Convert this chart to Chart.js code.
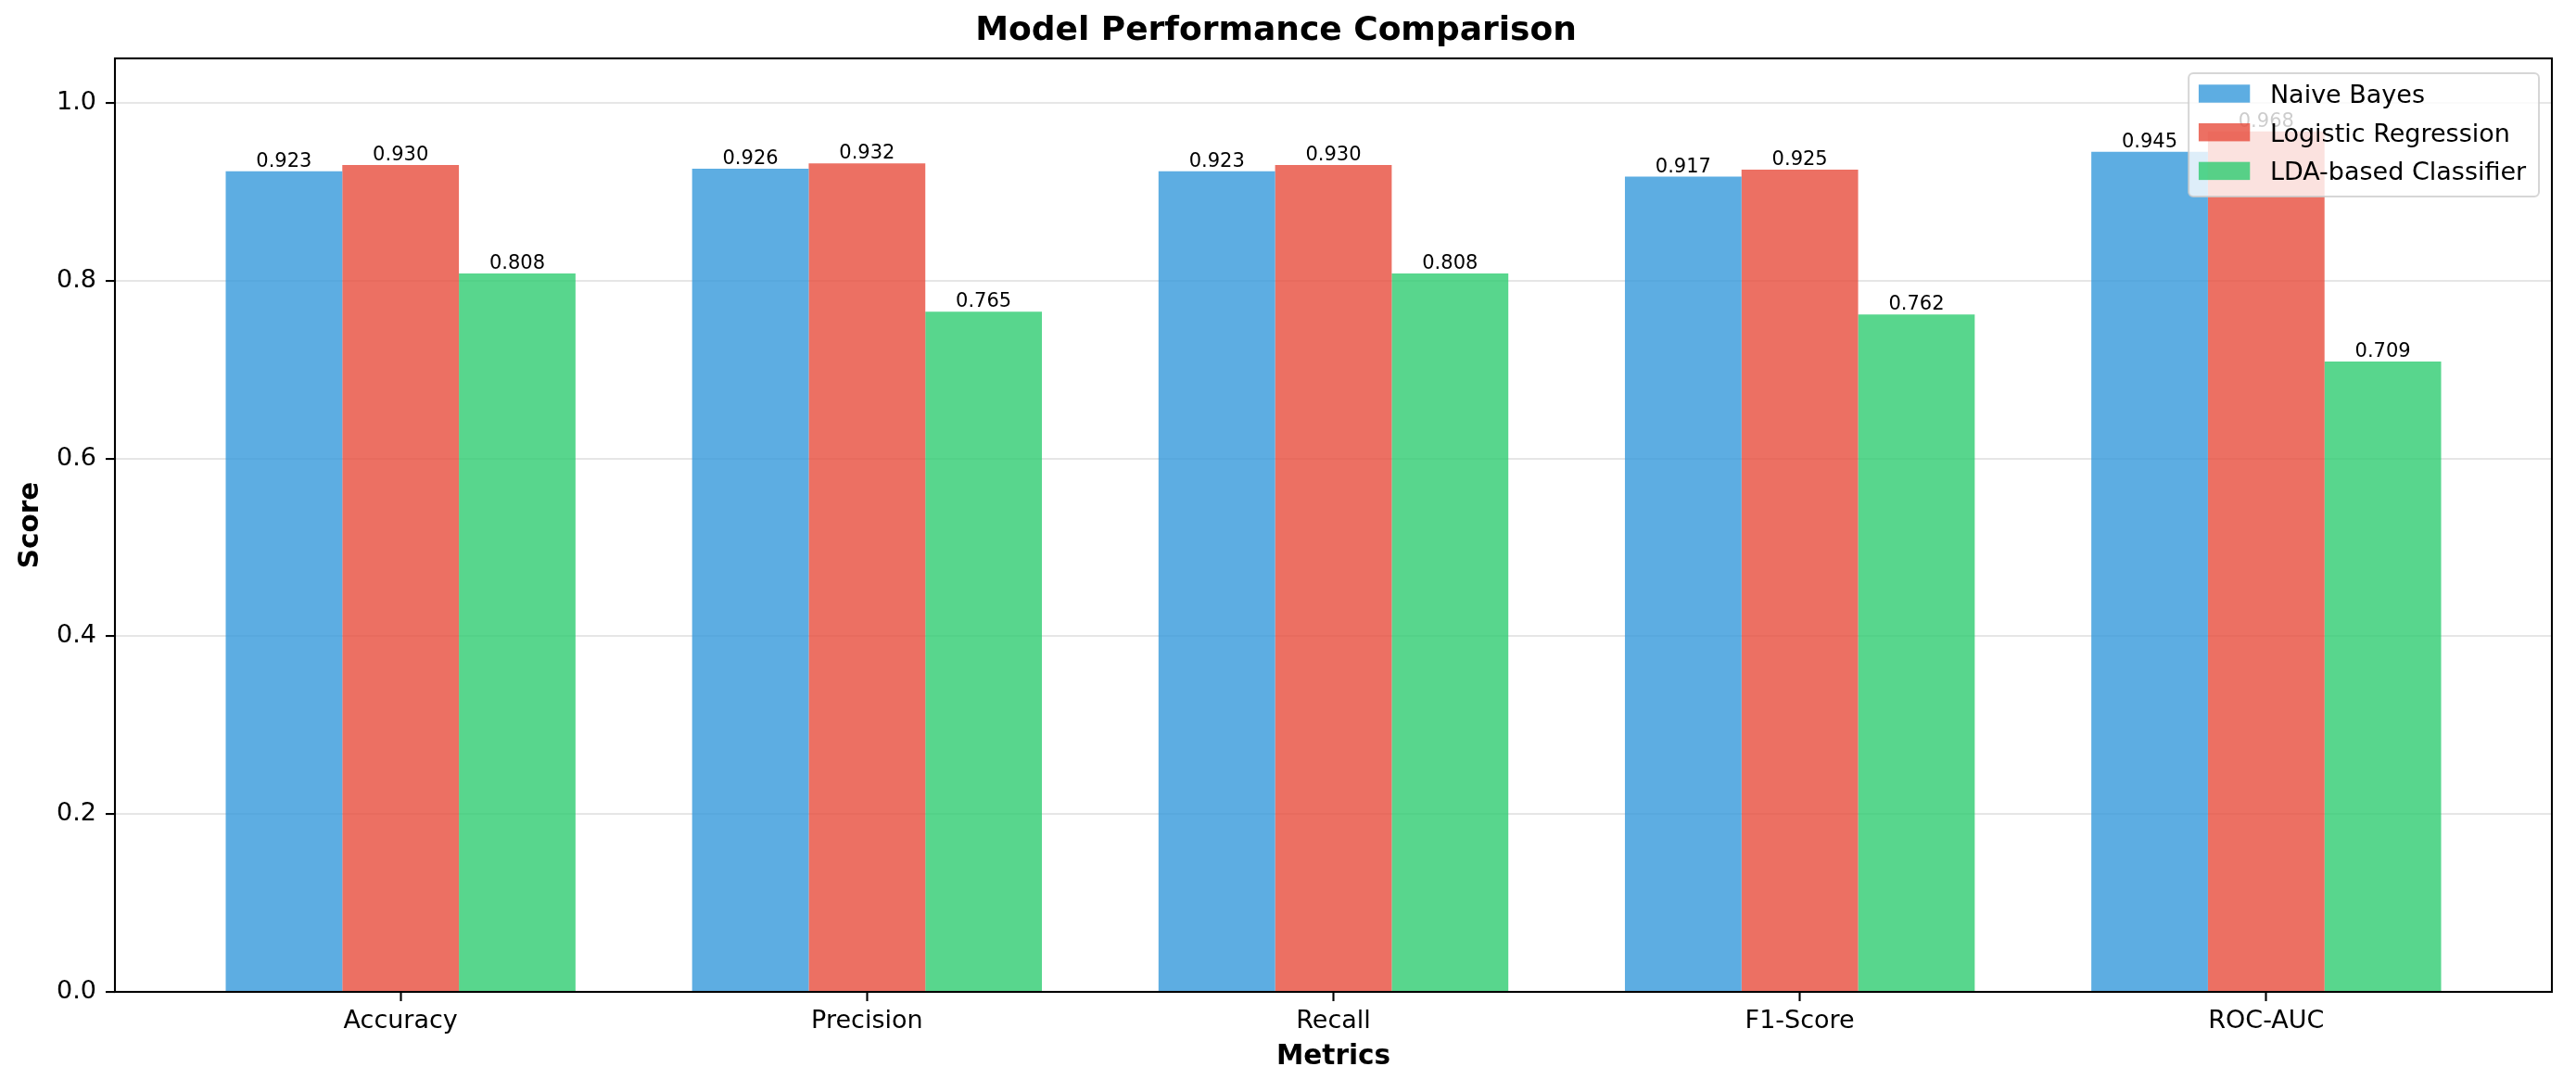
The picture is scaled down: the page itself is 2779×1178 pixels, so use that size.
<!DOCTYPE html>
<html>
<head>
<meta charset="utf-8">
<title>Model Performance Comparison</title>
<script src="https://cdn.jsdelivr.net/npm/chart.js@4.4.1/dist/chart.umd.min.js"></script>
<style>
    html, body { margin: 0; padding: 0; background: #fff; }
    #wrap { width: 2779px; height: 1178px; }
</style>
</head>
<body>
<div id="wrap"><canvas id="perfChart"></canvas></div>
<script>
// Data
const metrics = ['Accuracy', 'Precision', 'Recall', 'F1-Score', 'ROC-AUC'];
const models = ['Naive Bayes', 'Logistic Regression', 'LDA-based Classifier'];
const naiveBayes = [0.923, 0.926, 0.923, 0.917, 0.945];
const logReg = [0.930, 0.932, 0.930, 0.925, 0.968];
const ldaClf = [0.808, 0.765, 0.808, 0.762, 0.709];
const yTicks = [0.0, 0.2, 0.4, 0.6, 0.8, 1.0];

const FONT = "'DejaVu Sans', 'Liberation Sans', sans-serif";
const colors = [
    'rgba(52, 152, 219, 0.8)',
    'rgba(231, 76, 60, 0.8)',
    'rgba(46, 204, 113, 0.8)'
];
const seriesValues = [naiveBayes, logReg, ldaClf];

Chart.defaults.color = '#000';
Chart.defaults.font.family = FONT;

const datasets = models.map((name, k) => ({
    label: name,
    data: seriesValues[k].map((v, i) => ({ x: i, y: v })),
    backgroundColor: colors[k],
    borderWidth: 0,
    categoryPercentage: 0.75,
    barPercentage: 1.0
}));

// Value labels, box frame and legend drawn on top
const overlay = {
    id: 'overlay',
    afterDraw(chart) {
        const ctx = chart.ctx;
        const area = chart.chartArea;
        ctx.save();

        // frame
        ctx.strokeStyle = '#000';
        ctx.lineWidth = 2.1;
        ctx.strokeRect(area.left, area.top, area.right - area.left, area.bottom - area.top);

        // value labels
        ctx.font = '21px ' + FONT;
        ctx.fillStyle = '#000';
        ctx.textAlign = 'center';
        ctx.textBaseline = 'alphabetic';
        chart.data.datasets.forEach((ds, k) => {
            const meta = chart.getDatasetMeta(k);
            meta.data.forEach((bar, i) => {
                ctx.fillText(ds.data[i].y.toFixed(3), bar.x, bar.y - 5);
            });
        });

        // legend
        const fs = 27;
        const pad = 0.4 * fs;
        const handleW = 2.05 * fs;
        const handleH = 0.72 * fs;
        const textGap = 0.8 * fs;
        const rowStep = 41.7;
        ctx.font = fs + 'px ' + FONT;
        let maxW = 0;
        chart.data.datasets.forEach(ds => {
            maxW = Math.max(maxW, ctx.measureText(ds.label).width);
        });
        const boxW = pad + handleW + textGap + maxW + pad + 3;
        const boxH = 133;
        const boxR = area.right - 14;
        const boxL = boxR - boxW;
        const boxT = area.top + 16;
        ctx.beginPath();
        ctx.roundRect(boxL, boxT, boxW, boxH, 5);
        ctx.fillStyle = 'rgba(255, 255, 255, 0.8)';
        ctx.fill();
        ctx.lineWidth = 2;
        ctx.strokeStyle = 'rgba(204, 204, 204, 0.8)';
        ctx.stroke();

        ctx.textAlign = 'left';
        chart.data.datasets.forEach((ds, k) => {
            const cy = boxT + 22 + k * rowStep;
            ctx.fillStyle = ds.backgroundColor;
            ctx.fillRect(boxL + pad, cy - handleH / 2, handleW, handleH);
            ctx.fillStyle = '#000';
            ctx.fillText(ds.label, boxL + pad + handleW + textGap, cy + 0.3645 * fs);
        });
        ctx.restore();
    }
};

new Chart(document.getElementById('perfChart'), {
    type: 'bar',
    data: { datasets: datasets },
    options: {
        responsive: true,
        maintainAspectRatio: false,
        animation: false,
        layout: { padding: { top: 0, left: 0, right: 26, bottom: 0 } },
        scales: {
            x: {
                type: 'linear',
                // bar groups 0.75 wide plus 5% margins, like the source plot
                min: -0.6125,
                max: 4.6125,
                offset: false,
                afterBuildTicks: scale => {
                    scale.ticks = metrics.map((m, i) => ({ value: i }));
                },
                afterFit: scale => { scale.height = 108; },
                grid: {
                    offset: false,
                    drawOnChartArea: false,
                    drawTicks: true,
                    tickLength: 10,
                    tickColor: '#000',
                    tickWidth: 2.1
                },
                border: { display: false },
                ticks: {
                    padding: 5.5,
                    font: { size: 27 },
                    color: '#000',
                    maxRotation: 0,
                    autoSkip: false,
                    callback: value => metrics[value]
                },
                title: {
                    display: true,
                    text: 'Metrics',
                    color: '#000',
                    font: { size: 29.5, weight: 'bold' },
                    padding: { top: 0, bottom: 19.5 }
                }
            },
            y: {
                min: 0,
                max: 1.05,
                afterBuildTicks: scale => {
                    scale.ticks = yTicks.map(v => ({ value: v }));
                },
                afterFit: scale => { scale.width = 124; },
                grid: {
                    color: '#e6e6e6',
                    lineWidth: 2.1,
                    drawTicks: true,
                    tickLength: 10,
                    tickColor: '#000',
                    tickWidth: 2.1
                },
                border: { display: false },
                ticks: {
                    padding: 10,
                    font: { size: 27 },
                    color: '#000',
                    callback: value => value.toFixed(1)
                },
                title: {
                    display: true,
                    text: 'Score',
                    color: '#000',
                    font: { size: 29.5, weight: 'bold' },
                    padding: { top: 15.3, bottom: 0 }
                }
            }
        },
        plugins: {
            legend: { display: false },
            tooltip: { enabled: false },
            title: {
                display: true,
                text: 'Model Performance Comparison',
                color: '#000',
                font: { size: 36, weight: 'bold' },
                padding: { top: 12, bottom: 7.8 }
            }
        }
    },
    plugins: [overlay]
});
</script>
</body>
</html>
